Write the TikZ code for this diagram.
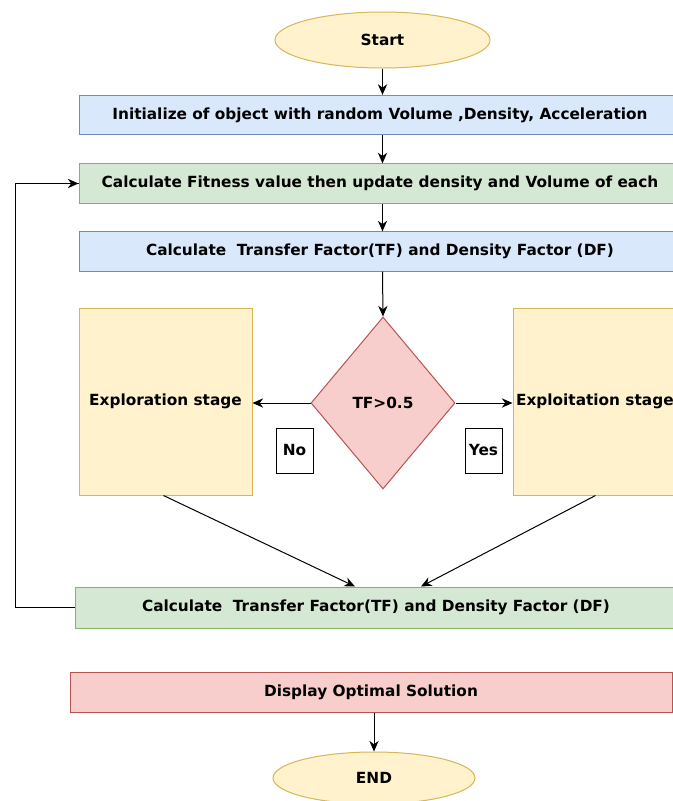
\documentclass[tikz,border=0pt]{standalone}
\usepackage{fontspec}
\setmainfont{DejaVu Sans}
\usetikzlibrary{shapes.geometric,arrows.meta,calc}
\definecolor{bluef}{HTML}{DAE8FC}
\definecolor{blued}{HTML}{6C8EBF}
\definecolor{greenf}{HTML}{D5E8D4}
\definecolor{greend}{HTML}{82B366}
\definecolor{yellowf}{HTML}{FFF2CC}
\definecolor{yellowd}{HTML}{D6B656}
\definecolor{redf}{HTML}{F8CECC}
\definecolor{redd}{HTML}{B85450}
\tikzset{
  wide/.style={rectangle, minimum width=451.5pt, minimum height=29.5pt, inner sep=0pt, line width=0.75pt},
  bluebox/.style={wide, fill=bluef, draw=blued},
  greenbox/.style={wide, fill=greenf, draw=greend},
  redbox/.style={wide, fill=redf, draw=redd},
  stagebox/.style={rectangle, minimum width=129.75pt, minimum height=140.25pt, inner sep=0pt, fill=yellowf, draw=yellowd, line width=0.75pt},
  term/.style={ellipse, fill=yellowf, draw=yellowd, line width=0.75pt, inner sep=0pt},
  decision/.style={diamond, fill=redf, draw=redd, line width=0.75pt, inner sep=0pt, minimum width=108pt, minimum height=129pt},
  tag/.style={rectangle, draw=black, fill=white, line width=0.6pt, minimum width=27.75pt, minimum height=33.75pt, inner sep=0pt},
  arr/.style={draw=black, line width=0.75pt, -{Stealth[length=8pt,width=7pt]}},
  ln/.style={draw=black, line width=0.75pt}
}
\begin{document}
\begin{tikzpicture}[x=0.75pt,y=-0.75pt,font=\bfseries\fontsize{11.5}{13.5}\selectfont]
\useasboundingbox (0,0) rectangle (673,801);
\clip (0,0) rectangle (673,801);
\fill[white] (0,0) rectangle (673,801);

\node[term, minimum width=161.25pt, minimum height=42pt] (start) at (382.5,40) {Start};
\node[bluebox] (init) at (380,115) {Initialize of object with random Volume ,Density, Acceleration};
\node[greenbox] (fit) at (380,183.5) {Calculate Fitness value then update density and Volume of each};
\node[bluebox] (tf) at (380,251.5) {Calculate\ \ Transfer Factor(TF) and Density Factor (DF)};
\node[decision] (dia) at (383,403) {TF>0.5};
\node[stagebox] (expl) at (165.5,401.5) {Exploration stage};
\node[stagebox] (explt) at (599.5,401.5) {Exploitation stage\hspace*{7pt}};
\node[tag] (no) at (294.5,450.5) {No};
\node[tag] (yes) at (483.5,450.5) {Yes};
\node[greenbox, minimum height=30.75pt] (calc) at (376,607.5) {Calculate\ \ Transfer Factor(TF) and Density Factor (DF)};
\node[redbox] (disp) at (371,692.5) {Display Optimal Solution};
\node[term, minimum width=151.5pt, minimum height=39pt] (end) at (374,778) {END};
\coordinate (loopx) at (15,0);

\draw[arr] (start.south) -- (start.south |- init.north);
\draw[arr] (start.south |- init.south) -- (start.south |- fit.north);
\draw[arr] (start.south |- fit.south) -- (start.south |- tf.north);
\draw[arr] (start.south |- tf.south) -- (dia.north);
\draw[arr] (dia.west) -- (dia.west -| expl.east);
\draw[arr] (dia.east) -- (dia.east -| explt.west);
\draw[arr] ($(expl.south)+(-2,0)$) -- ($(calc.north)+(-21,0)$);
\draw[arr] ($(explt.south)+(-4,0)$) -- ($(calc.north)+(45,0)$);
\draw[ln] (calc.west) -- (calc.west -| loopx) |- (fit.west);
\draw[arr] ($(fit.west)+(-30,0)$) -- (fit.west);
\draw[arr] (end.north |- disp.south) -- (end.north);
\end{tikzpicture}
\end{document}
